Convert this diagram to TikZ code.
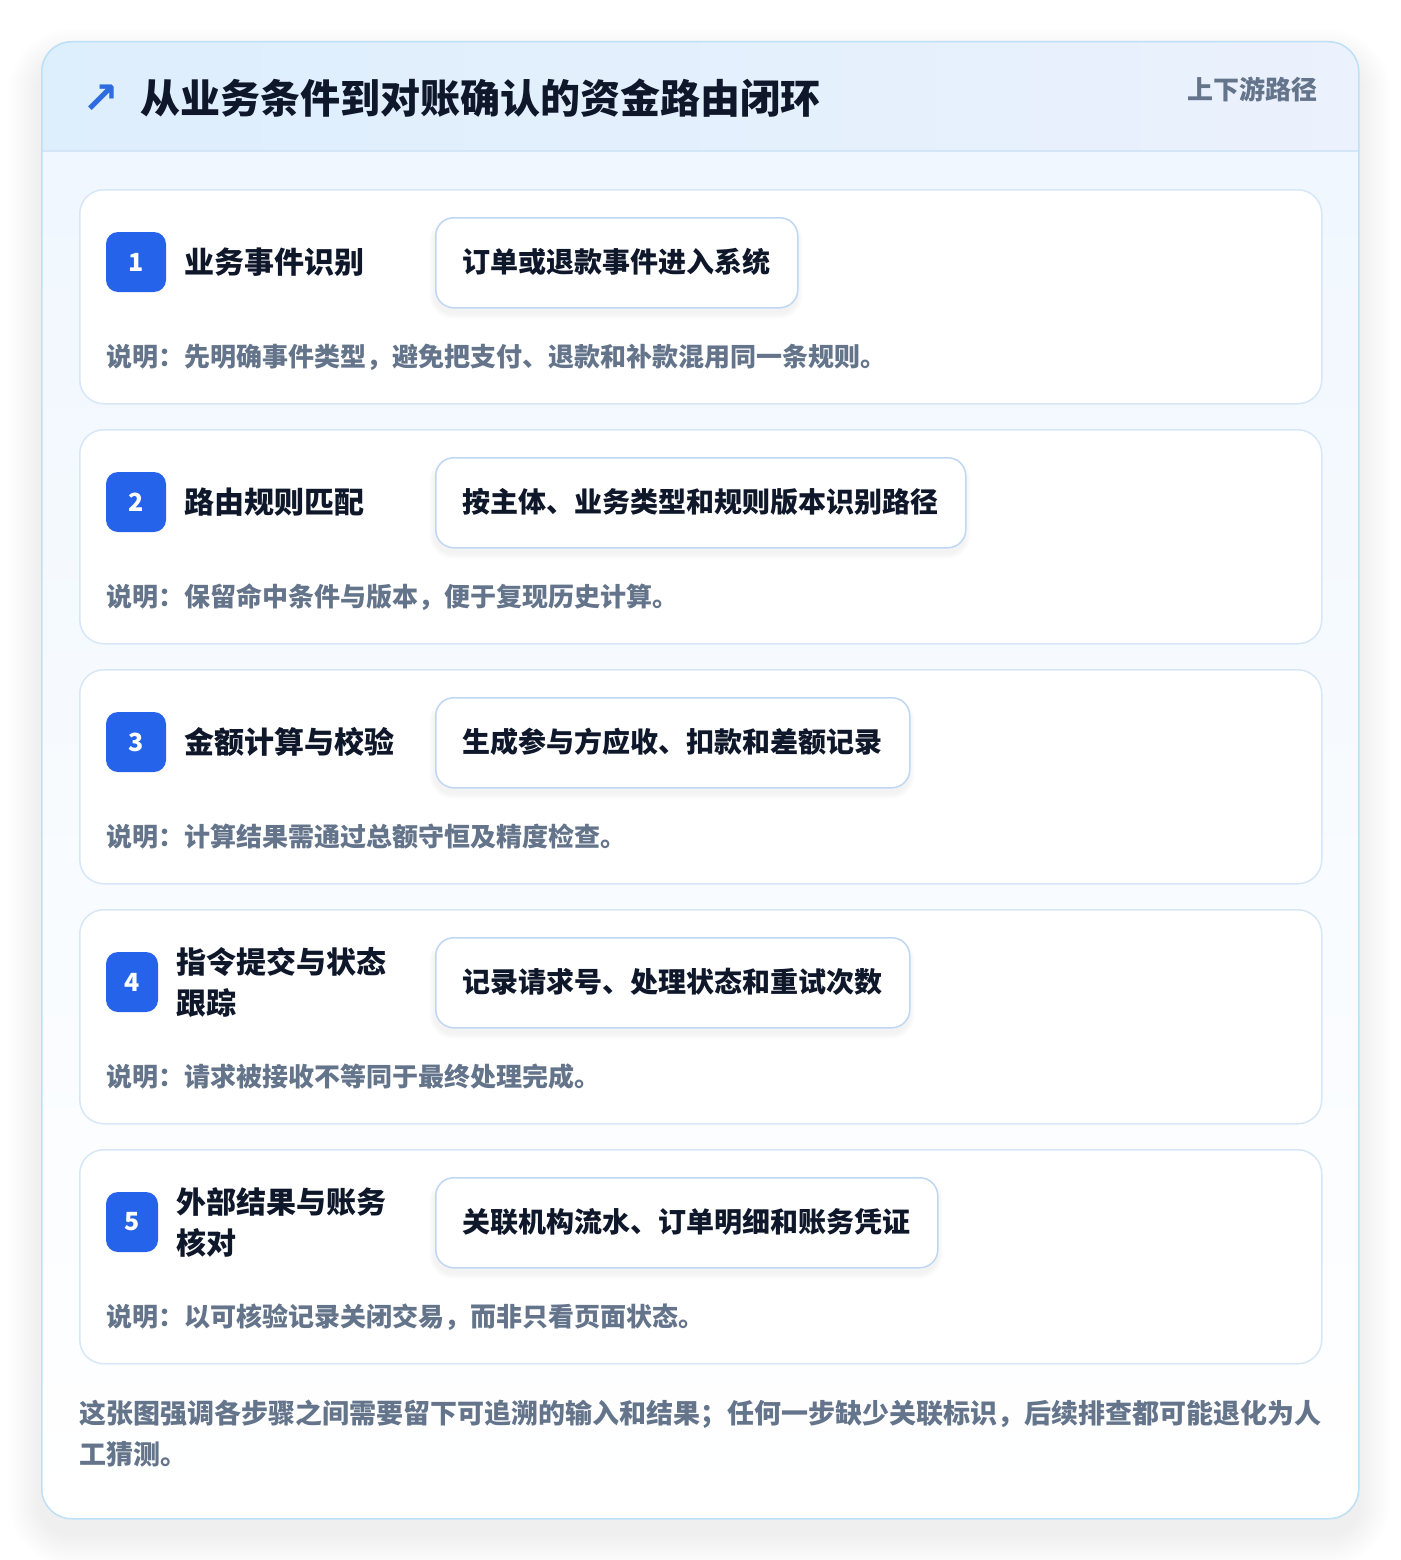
\documentclass[tikz,border=0pt]{standalone}
\usepackage{fontspec}
\newfontfamily\cjk{Noto Sans CJK SC}
\newfontfamily\sym{DejaVu Sans}
\definecolor{bluebadge}{HTML}{2563EB}
\definecolor{ink}{HTML}{0F172A}
\definecolor{muted}{HTML}{64748B}
\definecolor{pillborder}{HTML}{BFD7F3}
\definecolor{cardborder}{HTML}{D8E7F7}
\definecolor{outerborder}{HTML}{BEE0F6}
\definecolor{headL}{HTML}{DDEEFD}
\definecolor{headR}{HTML}{EBF1FD}
\definecolor{bodytop}{HTML}{F0F7FE}
\definecolor{divider}{HTML}{D3E6F8}
\definecolor{arrowblue}{HTML}{2F6BE0}
\tikzset{
  stepcard/.style={draw=cardborder, line width=1.5pt, fill=white, rounded corners=24pt, anchor=north west, minimum width=1242pt, minimum height=214pt, inner sep=0pt},
  badge/.style={fill=bluebadge, rounded corners=12pt, minimum height=60pt, inner sep=0pt, text=white, font=\cjk\bfseries\fontsize{25}{28}\selectfont},
  steptitle/.style={anchor=west, inner sep=0pt, text=ink, font=\cjk\bfseries\fontsize{30}{41}\selectfont, align=left},
  pill/.style={draw=pillborder, line width=1.5pt, fill=white, rounded corners=18pt, anchor=north west, minimum height=90pt, inner sep=0pt},
  pilltext/.style={anchor=west, inner sep=0pt, text=ink, font=\cjk\bfseries\fontsize{28}{34}\selectfont},
  desc/.style={anchor=west, inner sep=0pt, text=muted, font=\cjk\bfseries\fontsize{26}{32}\selectfont},
}
\begin{document}
\begin{tikzpicture}[x=1pt,y=-1pt]
\useasboundingbox (0,0) rectangle (1400,1560);
\fill[white] (0,0) rectangle (1400,1560);
% outer shadow
\foreach \k in {1,...,16}{
  \pgfmathsetmacro{\rr}{30+2*\k}
  \fill[black, opacity=0.0045, rounded corners=\rr pt] ({41-2*\k},{61-2*\k}) rectangle ({1358+2*\k},{1534+2*\k});
}
% outer card
\begin{scope}
  \clip[rounded corners=30pt] (41,41) rectangle (1358,1518);
  \shade[top color=bodytop, bottom color=white] (41,151) rectangle (1358,1518);
  \shade[left color=headL, right color=headR] (41,41) rectangle (1358,151);
  \draw[divider, line width=1.5pt] (41,151) -- (1358,151);
\end{scope}
\node[draw=outerborder, line width=1.5pt, rounded corners=30pt, anchor=north west, minimum width=1317pt, minimum height=1477pt, inner sep=0pt] (card) at (41,41) {};
% header
\node[anchor=center, inner sep=0pt, text=arrowblue, font=\sym\bfseries\fontsize{44}{44}\selectfont] (icon) at (101,99) {↗};
\node[anchor=west, inner sep=0pt, text=ink, font=\cjk\bfseries\fontsize{40}{48}\selectfont] (title) at (140,98) {从业务条件到对账确认的资金路由闭环};
\node[anchor=east, inner sep=0pt, text=muted, font=\cjk\bfseries\fontsize{26}{30}\selectfont] (tag) at (1318,89) {上下游路径};
% steps
\foreach \i/\num/\bw/\tx/\ttl/\pw/\ptxt/\dtxt in {
  1/1/60/184/{业务事件识别}/362/{订单或退款事件进入系统}/{说明：先明确事件类型，避免把支付、退款和补款混用同一条规则。},
  2/2/60/184/{路由规则匹配}/530/{按主体、业务类型和规则版本识别路径}/{说明：保留命中条件与版本，便于复现历史计算。},
  3/3/60/184/{金额计算与校验}/474/{生成参与方应收、扣款和差额记录}/{说明：计算结果需通过总额守恒及精度检查。},
  4/4/52/176/{指令提交与状态\\跟踪}/474/{记录请求号、处理状态和重试次数}/{说明：请求被接收不等同于最终处理完成。},
  5/5/52/176/{外部结果与账务\\核对}/502/{关联机构流水、订单明细和账务凭证}/{说明：以可核验记录关闭交易，而非只看页面状态。}}{
  \pgfmathsetmacro{\top}{189+240*(\i-1)}
  \node[stepcard] (card\i) at (79,\top) {};
  \node[badge, minimum width=\bw pt] (badge\i) at ({106+\bw/2},{\top+73}) {\num};
  \node[steptitle] (title\i) at (\tx,{\top+73}) {\ttl};
  % pill shadow
  \foreach \k in {1,...,6}{
    \pgfmathsetmacro{\rr}{18+\k}
    \fill[black, opacity=0.007, rounded corners=\rr pt] ({435-\k},{\top+28+6-\k}) rectangle ({435+\pw+\k},{\top+118+6+\k});
  }
  \node[pill, minimum width=\pw pt] (pill\i) at (435,{\top+28}) {};
  \node[pilltext] (ptext\i) at (462,{\top+73}) {\ptxt};
  \node[desc] (desc\i) at (106,{\top+168}) {\dtxt};
}
% footer
\node[anchor=north west, inner sep=0pt, text=muted, align=left, font=\cjk\bfseries\fontsize{27}{41}\selectfont] (footer) at (79,1400) {这张图强调各步骤之间需要留下可追溯的输入和结果；任何一步缺少关联标识，后续排查都可能退化为人\\工猜测。};
\end{tikzpicture}
\end{document}
